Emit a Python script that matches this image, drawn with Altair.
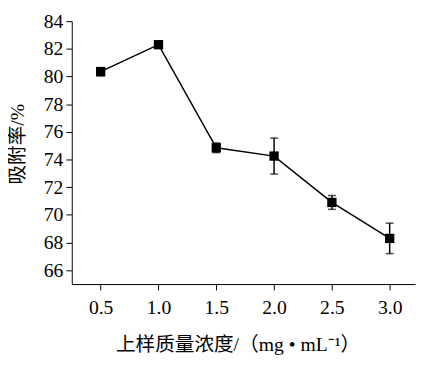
import altair as alt
import pandas as pd

conc = [0.5, 1.0, 1.5, 2.0, 2.5, 3.0]
rate = [80.35, 82.3, 74.85, 74.25, 70.9, 68.3]
err = [0.3, 0.1, 0.35, 1.3, 0.5, 1.1]
yticks = [66, 68, 70, 72, 74, 76, 78, 80, 82, 84]

df = pd.DataFrame({"conc": conc, "rate": rate, "err": err})
df["lo"] = df["rate"] - df["err"]
df["hi"] = df["rate"] + df["err"]

FONT = "Liberation Serif, Noto Sans CJK SC"

xscale = alt.Scale(domain=[0.25, 3.22], nice=False, zero=False)
yscale = alt.Scale(domain=[65, 84], nice=False, zero=False)

xaxis = alt.Axis(values=conc, format=".1f", grid=False, domainColor="black",
                 tickColor="black", tickSize=6, labelFontSize=20, labelFont=FONT,
                 labelColor="black", labelPadding=8, labelOverlap=False,
                 title="上样质量浓度/（mg • mL⁻¹）", titleFont=FONT, titleFontSize=20,
                 titleFontWeight="normal", titleColor="black",
                 titleX=169, titleY=62, titleBaseline="middle")
yaxis = alt.Axis(values=yticks, grid=False, domainColor="black",
                 tickColor="black", tickSize=6, labelFontSize=20, labelFont=FONT,
                 labelColor="black", labelPadding=3, labelOverlap=False,
                 labelBaseline="middle",
                 title="吸附率/%", titleFont=FONT, titleFontSize=20,
                 titleFontWeight="normal", titleColor="black",
                 titleX=-55, titleY=125, titleAlign="center", titleBaseline="middle")

X = alt.X("conc:Q", scale=xscale, axis=xaxis, title="上样质量浓度/（mg • mL⁻¹）")
def Y(field):
    return alt.Y(field, type="quantitative", scale=yscale, axis=yaxis, title="吸附率/%")

base = alt.Chart(df)
line = base.mark_line(color="black", strokeWidth=1.5).encode(x=X, y=Y("rate"))
pts = base.mark_point(shape="square", filled=True, color="black", size=90, opacity=1).encode(x=X, y=Y("rate"))
bars = base.mark_rule(color="black", strokeWidth=1.5).encode(x=X, y=Y("lo"), y2="hi:Q")
cap_lo = base.mark_tick(color="black", orient="horizontal", size=8, thickness=1.5).encode(x=X, y=Y("lo"))
cap_hi = base.mark_tick(color="black", orient="horizontal", size=8, thickness=1.5).encode(x=X, y=Y("hi"))

chart = alt.layer(line, bars, cap_lo, cap_hi, pts).properties(
    width=350, height=268,
    autosize=alt.AutoSizeParams(type="none"),
    padding={"left": 65, "top": 10, "right": 6, "bottom": 75},
    background="white",
).configure_view(stroke="transparent", strokeWidth=0)

chart.save("out.html", embed_options={"renderer": "svg", "actions": False})
